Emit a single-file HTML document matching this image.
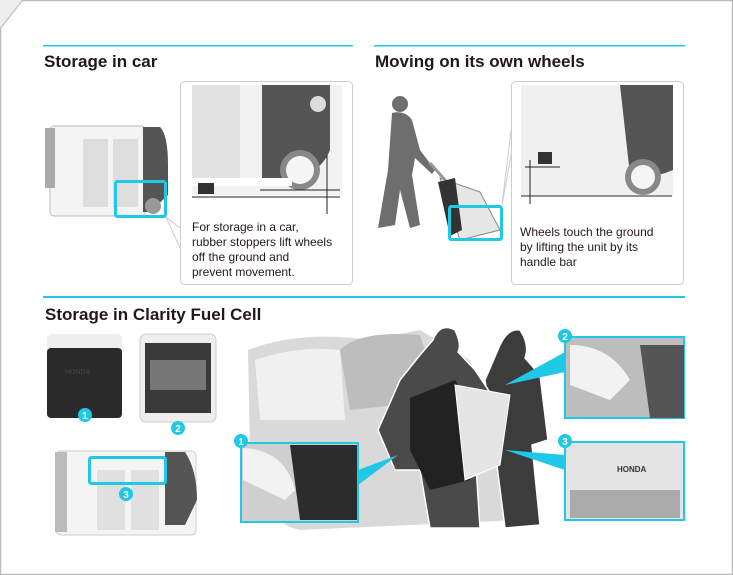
<!DOCTYPE html>
<html><head><meta charset="utf-8"><style>
html,body{margin:0;padding:0;background:#fff}
svg{display:block}
text{font-family:"Liberation Sans",sans-serif}
</style></head><body>
<svg width="733" height="575" viewBox="0 0 733 575" xmlns="http://www.w3.org/2000/svg">
<rect x="0" y="0" width="733" height="575" fill="#fff"/>
<path d="M22 0.5 H732.5 V574.5 H0.5 V28 Z" fill="none" stroke="#bbb" stroke-width="1.5"/>
<path d="M0 28 L22 0 L0 0 Z" fill="#eee"/>
<!-- cyan rules -->
<rect x="43" y="45" width="310" height="1.5" fill="#1ec8e6"/>
<rect x="374" y="45" width="311" height="1.5" fill="#1ec8e6"/>
<rect x="43" y="296" width="642" height="2" fill="#1ec8e6"/>
<text x="44" y="67" font-size="17" font-weight="bold" fill="#231815">Storage in car</text>
<text x="375" y="67" font-size="17" font-weight="bold" fill="#231815">Moving on its own wheels</text>
<text x="45" y="320" font-size="17" font-weight="bold" fill="#231815">Storage in Clarity Fuel Cell</text>

<!-- box 1 -->
<rect x="180.5" y="81.5" width="172" height="203" rx="4" fill="#fff" stroke="#ccc"/>
<path d="M166 217 L180 228 M166 217 L180 248" stroke="#ccc" fill="none"/>
<rect x="192" y="85" width="150" height="110" fill="#f2f2f2"/>
<rect x="192" y="85" width="48" height="100" fill="#e2e2e2"/>
<path d="M262 85 H330 V150 Q320 175 290 178 H262 Z" fill="#555"/>
<circle cx="318" cy="104" r="8" fill="#ddd"/>
<circle cx="300" cy="170" r="20" fill="#888"/><circle cx="300" cy="170" r="14" fill="#f5f5f5"/>
<rect x="192" y="178" width="100" height="8" fill="#fff"/>
<rect x="198" y="183" width="16" height="11" fill="#333"/>
<path d="M192 197 H340 M260 190 H340 M327 155 V214" stroke="#222" stroke-width="1"/>
<text font-size="12" fill="#231815"><tspan x="192" y="231">For storage in a car,</tspan><tspan x="192" y="246">rubber stoppers lift wheels</tspan><tspan x="192" y="261">off the ground and</tspan><tspan x="192" y="276">prevent movement.</tspan></text>

<!-- unit top-left -->
<rect x="50" y="182" width="95" height="34" rx="3" fill="#e8e8e8"/>
<rect x="50" y="126" width="95" height="90" rx="4" fill="#f4f4f4" stroke="#bbb"/>
<rect x="83" y="139" width="25" height="68" fill="#ddd"/>
<rect x="113" y="139" width="25" height="68" fill="#ddd"/>
<path d="M143 127 H160 Q168 135 168 165 V195 L150 212 H143 Z" fill="#555"/>
<rect x="45" y="128" width="10" height="60" fill="#aaa"/>
<circle cx="153" cy="206" r="8" fill="#999"/>
<rect x="115.5" y="181.5" width="50" height="35" rx="2" fill="none" stroke="#1ec8e6" stroke-width="3"/>

<!-- box 2 -->
<rect x="511.5" y="81.5" width="172" height="203" rx="4" fill="#fff" stroke="#ccc"/>
<path d="M502 205 L511 130 M502 205 L511 155" stroke="#ccc" fill="none"/>
<rect x="521" y="85" width="152" height="110" fill="#f0f0f0"/>
<path d="M620 85 H673 V170 Q650 180 630 175 Z" fill="#555"/>
<circle cx="643" cy="177" r="18" fill="#888"/><circle cx="643" cy="177" r="12" fill="#f5f5f5"/>
<rect x="538" y="152" width="14" height="12" fill="#333"/>
<path d="M521 196 H672 M525 167 H560 M530 160 V204" stroke="#222"/>
<text font-size="12" fill="#231815"><tspan x="520" y="236">Wheels touch the ground</tspan><tspan x="520" y="251">by lifting the unit by its</tspan><tspan x="520" y="266">handle bar</tspan></text>

<!-- walking man -->
<g fill="#6e6e6e">
<circle cx="400" cy="104" r="8"/>
<path d="M392 113 Q405 110 412 120 L420 150 L435 170 L432 174 L415 158 L412 175 L420 225 L410 228 L400 190 L395 225 L378 228 L388 170 Z"/>
</g>
<path d="M430 163 L445 180" stroke="#999" stroke-width="3"/>
<path d="M440 178 L480 192 L500 230 L460 240 Z" fill="#e6e6e6" stroke="#888"/>
<path d="M438 182 L455 178 L462 230 L450 236 Z" fill="#333"/>
<rect x="449.5" y="206.5" width="52" height="33" rx="2" fill="none" stroke="#1ec8e6" stroke-width="3"/>

<!-- left units bottom -->
<rect x="47" y="334" width="75" height="22" rx="5" fill="#eee"/>
<rect x="47" y="348" width="75" height="70" rx="4" fill="#2a2a2a"/>
<text x="65" y="374" font-size="7" fill="#444">HONDA</text>
<rect x="140" y="334" width="76" height="88" rx="6" fill="#eee" stroke="#ccc"/>
<rect x="145" y="343" width="66" height="70" fill="#3a3a3a"/>
<rect x="150" y="360" width="56" height="30" fill="#777"/>
<rect x="56" y="451" width="140" height="84" rx="5" fill="#f4f4f4" stroke="#ccc"/>
<path d="M165 452 H185 Q197 470 197 500 L185 525 H165 Z" fill="#555"/>
<rect x="55" y="452" width="12" height="80" fill="#bbb"/>
<rect x="97" y="470" width="28" height="60" fill="#e0e0e0"/>
<rect x="131" y="470" width="28" height="60" fill="#e0e0e0"/>
<rect x="89.5" y="457.5" width="76" height="26" rx="2" fill="none" stroke="#1ec8e6" stroke-width="3"/>

<!-- big scene -->
<path d="M248 350 Q300 330 370 340 L420 330 L470 360 L500 440 L520 520 L300 530 Q255 520 250 450 Z" fill="#d9d9d9"/>
<path d="M255 360 Q300 345 340 350 L345 420 L260 420 Z" fill="#f0f0f0"/>
<path d="M340 350 Q360 330 420 335 L440 400 L350 410 Z" fill="#bdbdbd"/>
<g fill="#4a4a4a" stroke="#fff" stroke-width="1.5">
<path d="M500 345 Q508 328 520 330 Q530 345 525 358 L540 375 L548 440 L532 445 L540 525 L505 528 L495 450 L485 380 Z" fill="#3c3c3c"/>
<path d="M433 340 Q440 322 455 330 Q462 345 458 352 L475 370 L495 400 L475 450 L480 528 L430 528 L420 470 L395 470 L378 430 L400 380 L420 355 Z"/>
</g>
<path d="M410 398 L455 380 L480 420 L470 480 L430 490 L410 450 Z" fill="#222"/>
<path d="M455 385 L510 395 L500 465 L465 480 Z" fill="#e5e5e5" stroke="#fff"/>
<!-- insets -->
<path d="M358 470 L398 455 L358 485 Z" fill="#1ec8e6"/>
<path d="M565 352 L505 385 L565 372 Z" fill="#1ec8e6"/>
<path d="M565 455 L505 450 L565 470 Z" fill="#1ec8e6"/>
<rect x="241" y="443" width="117" height="79" fill="#cfcfcf" stroke="#1ec8e6" stroke-width="2"/>
<path d="M290 445 H357 V520 H300 Z" fill="#2c2c2c"/>
<path d="M243 448 Q285 450 295 490 L285 500 L243 480 Z" fill="#f2f2f2"/>
<rect x="565" y="337" width="119" height="81" fill="#bdbdbd" stroke="#1ec8e6" stroke-width="2"/>
<path d="M570 345 Q610 345 630 380 L610 400 L570 385 Z" fill="#f2f2f2"/>
<path d="M640 345 H684 V418 H650 Z" fill="#555"/>
<rect x="565" y="442" width="119" height="78" fill="#e4e4e4" stroke="#1ec8e6" stroke-width="2"/>
<rect x="570" y="490" width="110" height="28" fill="#aaa"/>
<text x="617" y="472" font-size="8" font-weight="bold" fill="#333">HONDA</text>
<!-- badges -->
<g fill="#1ec8e6">
<circle cx="85" cy="415" r="7"/><circle cx="178" cy="428" r="7"/><circle cx="126" cy="494" r="7"/>
<circle cx="241" cy="441" r="7"/><circle cx="565" cy="336" r="7"/><circle cx="565" cy="441" r="7"/>
</g>
<g fill="#fff" font-size="10" font-weight="bold" text-anchor="middle">
<text x="85" y="419">1</text><text x="178" y="432">2</text><text x="126" y="498">3</text>
<text x="241" y="445">1</text><text x="565" y="340">2</text><text x="565" y="445">3</text>
</g>
</svg>
</body></html>
